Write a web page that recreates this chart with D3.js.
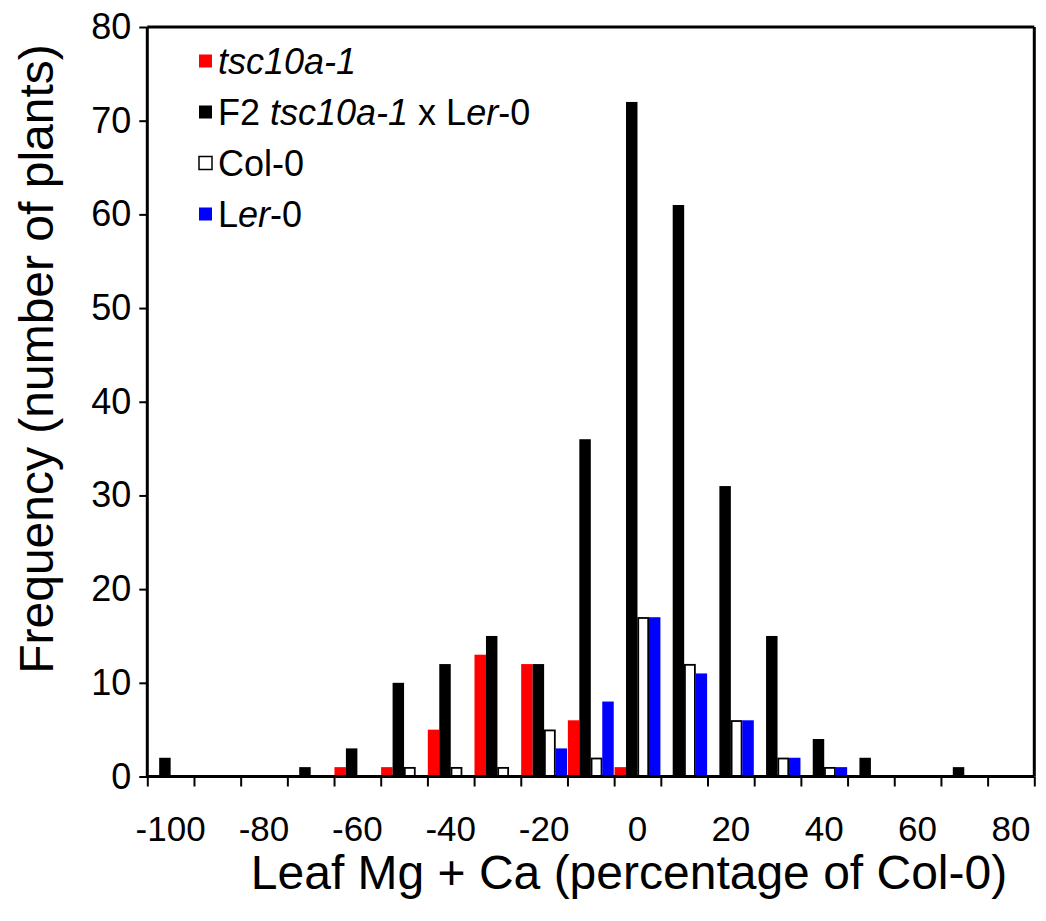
<!DOCTYPE html>
<html>
<head>
<meta charset="utf-8">
<script src="https://cdn.jsdelivr.net/npm/d3@7"></script>
<style>
  html, body { margin: 0; padding: 0; background: #fff; }
  svg { display: block; font-family: "Liberation Sans", Arial, sans-serif; }
</style>
</head>
<body>
<svg id="chart" width="1046" height="921"></svg>
<script>
// ---- data ----
const bins = [-100, -90, -80, -70, -60, -50, -40, -30, -20, -10, 0, 10, 20, 30, 40, 50, 60, 70, 80];
const tsc10a1 = [0, 0, 0, 0, 1, 1, 5, 13, 12, 6, 1, 0, 0, 0, 0, 0, 0, 0, 0];
const f2Cross = [2, 0, 0, 1, 3, 10, 12, 15, 12, 36, 72, 61, 31, 15, 4, 2, 0, 1, 0];
const col0    = [0, 0, 0, 0, 0, 1, 1, 1, 5, 2, 17, 12, 6, 2, 1, 0, 0, 0, 0];
const ler0    = [0, 0, 0, 0, 0, 0, 0, 0, 3, 8, 17, 11, 6, 2, 1, 0, 0, 0, 0];
const yTicks  = [0, 10, 20, 30, 40, 50, 60, 70, 80];
const seriesNames = ["tsc10a-1", "F2", "Col-0", "Ler-0"];

const series = [
  { key: "tsc10a-1", values: tsc10a1, fill: "#ff0000", stroke: "none",
    label: [{ t: "tsc10a-1", i: true }] },
  { key: "F2", values: f2Cross, fill: "#000000", stroke: "none",
    label: [{ t: "F2 " }, { t: "tsc10a-1", i: true }, { t: " x L" }, { t: "er", i: true }, { t: "-0" }] },
  { key: "Col-0", values: col0, fill: "#ffffff", stroke: "#000000",
    label: [{ t: "Col-0" }] },
  { key: "Ler-0", values: ler0, fill: "#0000ff", stroke: "none",
    label: [{ t: "L" }, { t: "er", i: true }, { t: "-0" }] }
];

// ---- layout ----
const svg = d3.select("#chart");
const L = 147.3, R = 1034.3, T = 27, B = 776.5;

const x = d3.scaleBand().domain(bins.map(String)).range([L, R]).paddingInner(0).paddingOuter(0);
const xs = d3.scaleBand().domain(seriesNames).range([0, x.bandwidth()]).paddingInner(0).paddingOuter(0.035);
const y = d3.scaleLinear().domain([0, 80]).range([B, T]);

// bars
const g = svg.append("g");
series.forEach(s => {
  const outlined = s.stroke !== "none";
  g.selectAll(null)
    .data(bins.map((b, i) => ({ b, v: s.values[i] })).filter(d => d.v > 0))
    .enter().append("rect")
    .attr("x", d => x(String(d.b)) + xs(s.key) + (outlined ? 0.75 : 0))
    .attr("width", xs.bandwidth() - (outlined ? 1.5 : 0))
    .attr("y", d => y(d.v) + (outlined ? 0.75 : 0))
    .attr("height", d => B - y(d.v) - (outlined ? 0.75 : 0))
    .attr("fill", s.fill)
    .attr("stroke", s.stroke)
    .attr("stroke-width", outlined ? 1.8 : 0);
});

// frame top & right
svg.append("line").attr("x1", L).attr("x2", R).attr("y1", T).attr("y2", T)
  .attr("stroke", "#000").attr("stroke-width", 3);
svg.append("line").attr("x1", R).attr("x2", R).attr("y1", T).attr("y2", B)
  .attr("stroke", "#000").attr("stroke-width", 3);

// y axis
const yAxis = d3.axisLeft(y).tickValues(yTicks).tickSize(8).tickPadding(8).tickFormat(d3.format("d"));
const gy = svg.append("g").attr("transform", `translate(${L},0)`).call(yAxis);
gy.select(".domain").attr("stroke-width", 3).attr("d", `M0,${T}V${B}`);
gy.selectAll(".tick line").attr("stroke-width", 2);
gy.selectAll(".tick text").attr("font-size", 36).attr("font-family", "Liberation Sans, Arial, sans-serif").attr("fill", "#000");

// x axis: tick marks at category boundaries
const xBounds = d3.scaleLinear().domain([0, bins.length]).range([L, R]);
const xAxisTicks = d3.axisBottom(xBounds).tickValues(d3.range(bins.length + 1)).tickSize(10).tickFormat("");
const gx = svg.append("g").attr("transform", `translate(0,${B})`).call(xAxisTicks);
gx.select(".domain").attr("stroke-width", 3).attr("d", `M${L},0H${R}`);
gx.selectAll(".tick line").attr("stroke-width", 2);

// x labels: every other category, centered in category
const xLab = d3.axisBottom(x).tickValues(bins.filter((b, i) => i % 2 === 0).map(String)).tickSize(0).tickPadding(40);
const gxl = svg.append("g").attr("transform", `translate(0,${B})`).call(xLab);
gxl.select(".domain").remove();
gxl.selectAll(".tick text").attr("font-size", 35).attr("font-family", "Liberation Sans, Arial, sans-serif").attr("fill", "#000")
  .attr("dy", "0.35em").attr("y", 52);

// axis titles
svg.append("text").attr("x", 629).attr("y", 889).attr("text-anchor", "middle")
  .attr("font-size", 48).text("Leaf Mg + Ca (percentage of Col-0)");
svg.append("text").attr("transform", "translate(53,359) rotate(-90)").attr("text-anchor", "middle")
  .attr("font-size", 48).text("Frequency (number of plants)");

// legend
const leg = svg.append("g");
series.forEach((s, i) => {
  const cy = 61 + i * 51;
  leg.append("rect").attr("x", 199).attr("y", cy - 6.5).attr("width", 13).attr("height", 13)
    .attr("fill", s.fill).attr("stroke", s.stroke).attr("stroke-width", s.stroke !== "none" ? 1.5 : 0);
  const t = leg.append("text").attr("x", 218).attr("y", cy + 12.5).attr("font-size", 36);
  s.label.forEach(p => t.append("tspan").attr("font-style", p.i ? "italic" : "normal").text(p.t));
});
</script>
</body>
</html>
